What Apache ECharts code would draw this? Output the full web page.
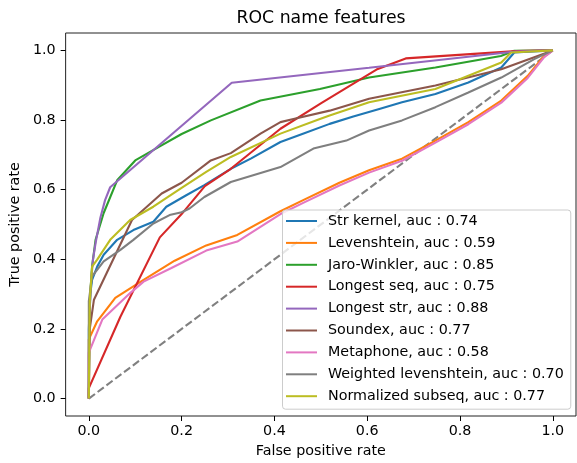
<!DOCTYPE html>
<html>
<head>
<meta charset="utf-8">
<script src="https://cdn.jsdelivr.net/npm/echarts@6/dist/echarts.min.js"></script>
<style>
html,body{margin:0;padding:0;background:#fff;}
#chart{width:577px;height:463px;}
</style>
</head>
<body>
<div id="chart"></div>
<script>
// ---- data (fpr, tpr) ----
const seriesNames = [
  'Str kernel, auc : 0.74',
  'Levenshtein, auc : 0.59',
  'Jaro-Winkler, auc : 0.85',
  'Longest seq, auc : 0.75',
  'Longest str, auc : 0.88',
  'Soundex, auc : 0.77',
  'Metaphone, auc : 0.58',
  'Weighted levenshtein, auc : 0.70',
  'Normalized subseq, auc : 0.77'
];
const seriesColors = ['#1f77b4','#ff7f0e','#2ca02c','#d62728','#9467bd','#8c564b','#e377c2','#7f7f7f','#bcbd22'];
const tickValues = [0, 0.2, 0.4, 0.6, 0.8, 1.0];
const diagonal = [[0,0],[1,1]];

const strKernel = [[0,0],[0,0.2],[0.003,0.3],[0.007,0.341],[0.018,0.379],[0.032,0.413],[0.061,0.456],[0.096,0.484],[0.139,0.508],[0.167,0.551],[0.21,0.584],[0.249,0.613],[0.306,0.66],[0.35,0.69],[0.413,0.737],[0.46,0.76],[0.519,0.789],[0.57,0.81],[0.626,0.832],[0.675,0.851],[0.747,0.875],[0.818,0.908],[0.889,0.951],[0.917,0.994],[1,1]];
const levenshtein = [[0,0],[0,0.17],[0.018,0.222],[0.057,0.289],[0.118,0.341],[0.185,0.396],[0.253,0.44],[0.32,0.47],[0.413,0.538],[0.462,0.57],[0.54,0.62],[0.604,0.656],[0.675,0.689],[0.747,0.741],[0.818,0.794],[0.889,0.856],[0.946,0.927],[0.981,0.984],[1,1]];
const jaroWinkler = [[0,0],[0.001,0.2],[0.003,0.3],[0.007,0.38],[0.0145,0.456],[0.032,0.533],[0.061,0.627],[0.1,0.684],[0.15,0.722],[0.2,0.76],[0.263,0.799],[0.37,0.856],[0.498,0.889],[0.604,0.922],[0.747,0.951],[0.888,0.984],[0.917,0.999],[1,1]];
const longestSeq = [[0,0],[0,0.03],[0.068,0.235],[0.153,0.463],[0.2,0.53],[0.25,0.61],[0.306,0.66],[0.413,0.775],[0.5,0.848],[0.62,0.945],[0.683,0.977],[0.92,0.998],[1,1]];
const longestStr = [[0,0],[0,0.12],[0.002,0.26],[0.005,0.34],[0.009,0.4],[0.015,0.45],[0.025,0.52],[0.035,0.57],[0.046,0.607],[0.308,0.907],[0.604,0.95],[0.92,0.997],[1,1]];
const soundex = [[0,0],[0.002,0.2],[0.011,0.284],[0.093,0.513],[0.157,0.589],[0.2,0.62],[0.263,0.684],[0.306,0.705],[0.37,0.761],[0.413,0.794],[0.441,0.803],[0.519,0.827],[0.604,0.861],[0.747,0.899],[0.889,0.946],[1,1]];
const metaphone = [[0,0],[0,0.132],[0.029,0.227],[0.089,0.303],[0.118,0.336],[0.178,0.375],[0.253,0.425],[0.32,0.451],[0.413,0.53],[0.462,0.562],[0.54,0.612],[0.604,0.649],[0.675,0.683],[0.747,0.735],[0.818,0.788],[0.889,0.85],[0.946,0.921],[0.981,0.98],[1,1]];
const weightedLev = [[0,0],[0,0.28],[0.007,0.351],[0.032,0.394],[0.068,0.427],[0.096,0.456],[0.139,0.503],[0.174,0.527],[0.2,0.535],[0.217,0.546],[0.249,0.579],[0.306,0.622],[0.413,0.665],[0.484,0.718],[0.555,0.741],[0.604,0.77],[0.675,0.799],[0.747,0.837],[0.818,0.879],[0.889,0.922],[0.96,0.975],[1,1]];
const normSubseq = [[0,0],[0.002,0.28],[0.007,0.379],[0.018,0.399],[0.046,0.456],[0.089,0.513],[0.139,0.551],[0.2,0.605],[0.253,0.651],[0.306,0.694],[0.413,0.761],[0.498,0.803],[0.519,0.813],[0.604,0.851],[0.747,0.889],[0.818,0.927],[0.889,0.965],[0.91,0.994],[1,1]];

const seriesData = [strKernel, levenshtein, jaroWinkler, longestSeq, longestStr, soundex, metaphone, weightedLev, normSubseq];

// ---- chart ----
const chart = echarts.init(document.getElementById('chart'), null, {renderer: 'canvas'});
const FONT = 'DejaVu Sans';
const FS = 14.3;
const axisCommon = {
  type: 'value',
  min: -0.05,
  max: 1.05,
  splitLine: {show: false},
  axisLine: {show: false, onZero: false},
  axisTick: {show: true, length: 5, inside: false, customValues: tickValues, lineStyle: {color: '#000', width: 1}},
  axisLabel: {customValues: tickValues, formatter: v => v.toFixed(1), color: '#000', fontFamily: FONT, fontSize: FS, margin: 10},
  nameTextStyle: {color: '#000', fontFamily: FONT, fontSize: FS}
};

const series = seriesData.map((d, i) => ({
  name: seriesNames[i],
  type: 'line',
  data: d,
  showSymbol: false,
  symbol: 'none',
  lineStyle: {color: seriesColors[i], width: 2.1},
  itemStyle: {color: seriesColors[i]},
  z: 3
}));
series.push({
  name: 'diag',
  type: 'line',
  data: diagonal,
  showSymbol: false,
  symbol: 'none',
  lineStyle: {color: '#808080', width: 2.1, type: [7.7, 3.3]},
  z: 2
});

chart.setOption({
  animation: false,
  backgroundColor: '#fff',
  title: {
    text: 'ROC name features',
    left: 316,
    textAlign: 'center',
    top: 5,
    textStyle: {fontFamily: FONT, fontSize: 17.3, fontWeight: 'normal', color: '#000'}
  },
  grid: {left: 63, right: 1, top: 33, bottom: 47, show: true, borderColor: '#222', borderWidth: 1, backgroundColor: 'transparent'},
  xAxis: Object.assign({}, axisCommon, {
    name: 'False positive rate', nameLocation: 'middle', nameGap: 28,
    axisLabel: Object.assign({}, axisCommon.axisLabel, {margin: 8})
  }),
  yAxis: Object.assign({}, axisCommon, {name: 'True positive rate', nameLocation: 'middle', nameGap: 41}),
  legend: {
    orient: 'vertical',
    left: 282.5,
    top: 210,
    data: seriesNames,
    icon: 'rect',
    itemWidth: 31,
    itemHeight: 2,
    itemGap: 5.9,
    padding: [3, 7, 5, 3.5],
    backgroundColor: 'rgba(255,255,255,0.8)',
    borderColor: '#cccccc',
    borderWidth: 1,
    borderRadius: 3,
    inactiveColor: '#ccc',
    textStyle: {fontFamily: FONT, fontSize: FS, color: '#000', lineHeight: 16, padding: [0, 0, 0, 6]}
  },
  series: series
});
</script>
</body>
</html>
